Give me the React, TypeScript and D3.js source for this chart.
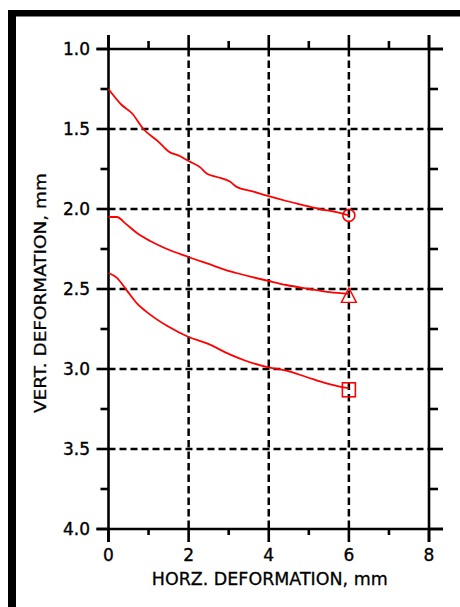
import React from "react";
import * as d3 from "d3";

// ---- data ----
const xMajorTicks = [0, 2, 4, 6, 8];
const xMinorTicks = [1, 3, 5, 7];
const yMajorTicks = [1.0, 1.5, 2.0, 2.5, 3.0, 3.5, 4.0];
const yMinorTicks = [1.25, 1.75, 2.25, 2.75, 3.25, 3.75];
const xGrid = [2, 4, 6];
const yGrid = [1.5, 2.0, 2.5, 3.0, 3.5];

const circleX = [0, 0.33, 0.58, 0.87, 1.25, 1.5, 1.79, 2.0, 2.29, 2.46, 2.71, 3.04, 3.19, 3.6, 4.0, 4.44, 4.85, 5.27, 5.69, 6.0];
const circleY = [1.25, 1.35, 1.4, 1.5, 1.58, 1.64, 1.67, 1.7, 1.74, 1.78, 1.8, 1.83, 1.86, 1.89, 1.92, 1.95, 1.975, 2.0, 2.02, 2.04];

const triangleX = [0, 0.21, 0.42, 0.71, 1.04, 1.46, 2.0, 2.46, 3.04, 3.19, 4.0, 4.44, 5.02, 5.52, 6.0];
const triangleY = [2.05, 2.05, 2.09, 2.15, 2.2, 2.25, 2.3, 2.34, 2.39, 2.4, 2.45, 2.475, 2.5, 2.52, 2.53];

const squareX = [0, 0.21, 0.46, 0.71, 1.04, 1.46, 2.0, 2.46, 3.04, 3.44, 4.0, 4.44, 4.94, 5.44, 5.77, 6.0];
const squareY = [2.4, 2.43, 2.51, 2.59, 2.66, 2.73, 2.8, 2.84, 2.91, 2.95, 2.99, 3.01, 3.05, 3.09, 3.11, 3.12];

const markerX = [6, 6, 6];
const markerY = [2.04, 2.54, 3.13];

const xTitle = "HORZ. DEFORMATION, mm";
const yTitle = "VERT. DEFORMATION, mm";

export default function App() {
  const W = 460;
  const H = 607;
  const x = d3.scaleLinear().domain([0, 8]).range([108.5, 429]);
  const y = d3.scaleLinear().domain([1, 4]).range([49, 529]);
  const left = x(0), right = x(8), top = y(1), bottom = y(4);
  const major = 13, minor = 8;
  const font = "'DejaVu Sans', sans-serif";
  const red = "#ff0000";

  const line = d3
    .line<[number, number]>()
    .x((d) => x(d[0]))
    .y((d) => y(d[1]))
    .curve(d3.curveMonotoneX);

  const series = [
    [circleX, circleY],
    [triangleX, triangleY],
    [squareX, squareY],
  ].map(([xs, ys]) => xs.map((v, i) => [v, ys[i]] as [number, number]));

  const axisStroke = { stroke: "#000", strokeWidth: 2.6 };

  return (
    <svg
      width={W}
      height={H}
      style={{ position: "absolute", left: 0, top: 0, background: "#fff" }}
    >
      <rect x={0} y={0} width={W} height={H} fill="#fff" />
      {/* frame */}
      <rect x={8} y={10} width={W - 8} height={6.5} fill="#000" />
      <rect x={8} y={10} width={8} height={H - 10} fill="#000" />

      {/* grid */}
      {xGrid.map((v) => (
        <line key={"gx" + v} x1={x(v)} x2={x(v)} y1={top} y2={bottom}
          stroke="#000" strokeWidth={2.5} strokeDasharray="7.5,4" />
      ))}
      {yGrid.map((v) => (
        <line key={"gy" + v} x1={left} x2={right} y1={y(v)} y2={y(v)}
          stroke="#000" strokeWidth={2.5} strokeDasharray="7,4" />
      ))}

      {/* axes frame */}
      <line x1={left - major + 1} x2={right + major + 1} y1={top} y2={top} {...axisStroke} />
      <line x1={left - major + 1} x2={right + major + 1} y1={bottom} y2={bottom} {...axisStroke} />
      <line x1={left} x2={left} y1={top - major - 1} y2={bottom + major} {...axisStroke} />
      <line x1={right} x2={right} y1={top - major - 1} y2={bottom + major} {...axisStroke} />

      {/* x ticks */}
      {xMajorTicks.map((v) => (
        <g key={"xm" + v}>
          <line x1={x(v)} x2={x(v)} y1={top} y2={top - major - 1} {...axisStroke} />
          <line x1={x(v)} x2={x(v)} y1={bottom} y2={bottom + major} {...axisStroke} />
          <text x={x(v)} y={bottom + 32} textAnchor="middle" fontFamily={font}
            fontSize={17} fill="#000" stroke="#000" strokeWidth={0.35}>
            {v}
          </text>
        </g>
      ))}
      {xMinorTicks.map((v) => (
        <g key={"xn" + v}>
          <line x1={x(v)} x2={x(v)} y1={top} y2={top - minor} {...axisStroke} />
          <line x1={x(v)} x2={x(v)} y1={bottom} y2={bottom + 6} {...axisStroke} />
        </g>
      ))}

      {/* y ticks */}
      {yMajorTicks.map((v) => (
        <g key={"ym" + v}>
          <line x1={left} x2={left - major + 1} y1={y(v)} y2={y(v)} {...axisStroke} />
          <line x1={right} x2={right + major + 1} y1={y(v)} y2={y(v)} {...axisStroke} />
          <text x={90} y={y(v) + 6} textAnchor="end" fontFamily={font}
            fontSize={17} fill="#000" stroke="#000" strokeWidth={0.35}>
            {v.toFixed(1)}
          </text>
        </g>
      ))}
      {yMinorTicks.map((v) => (
        <g key={"yn" + v}>
          <line x1={left} x2={left - minor} y1={y(v)} y2={y(v)} {...axisStroke} />
          <line x1={right} x2={right + minor + 1} y1={y(v)} y2={y(v)} {...axisStroke} />
        </g>
      ))}

      {/* titles */}
      <text x={(left + right) / 2 + 1} y={585} textAnchor="middle" fontFamily={font}
        fontSize={17} fill="#000" stroke="#000" strokeWidth={0.3}
        textLength={236} lengthAdjust="spacingAndGlyphs">
        {xTitle}
      </text>
      <text transform={`translate(46,293) rotate(-90)`} textAnchor="middle" fontFamily={font}
        fontSize={16} fill="#000" stroke="#000" strokeWidth={0.3}
        textLength={240} lengthAdjust="spacingAndGlyphs">
        {yTitle}
      </text>

      {/* curves */}
      {series.map((s, i) => (
        <path key={"s" + i} d={line(s) || ""} fill="none" stroke={red} strokeWidth={1.8} />
      ))}

      {/* markers */}
      <circle cx={x(markerX[0])} cy={y(markerY[0])} r={6} fill="none" stroke={red} strokeWidth={1.6} />
      <path
        d={`M${x(markerX[1])},${y(markerY[1]) - 7.5} L${x(markerX[1]) + 7.5},${y(markerY[1]) + 7} L${x(markerX[1]) - 7.5},${y(markerY[1]) + 7} Z`}
        fill="none" stroke={red} strokeWidth={1.4} />
      <rect x={x(markerX[2]) - 6.5} y={y(markerY[2]) - 7} width={13} height={14}
        fill="none" stroke={red} strokeWidth={1.6} />
    </svg>
  );
}
